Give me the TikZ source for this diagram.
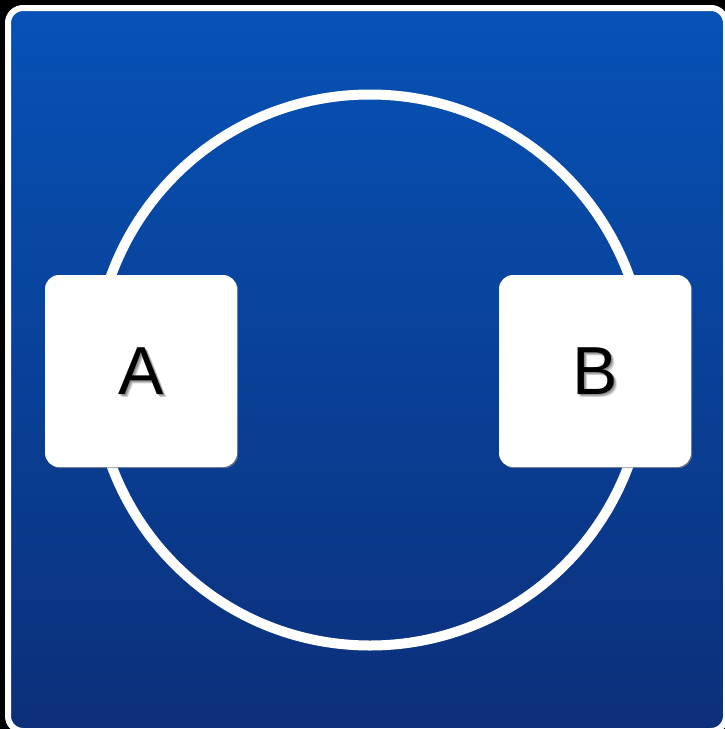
\documentclass[tikz,border=0pt]{standalone}
\usepackage{fontspec}
\setmainfont{Liberation Sans}
\usetikzlibrary{shadows}
\definecolor{paneltop}{RGB}{6,82,182}
\definecolor{panelbottom}{RGB}{12,47,122}

\begin{document}
\begin{tikzpicture}[x=1pt, y=-1pt]
  \tikzstyle{panel} = [draw=white, line width=6pt, rounded corners=15pt, top color=paneltop, bottom color=panelbottom]
  \tikzstyle{ring} = [circle, draw=white, line width=10pt, minimum size=551pt, inner sep=0pt]
  \tikzstyle{card} = [rectangle, fill=white, rounded corners=14pt, minimum size=192pt, inner sep=0pt,
                      drop shadow={shadow xshift=1.2pt, shadow yshift=-1.2pt, opacity=0.7}]
  \tikzstyle{letter} = [font=\fontsize{68}{68}\selectfont, inner sep=0pt]
  \tikzstyle{glow} = [letter, text=black, text opacity=0.18]

  \useasboundingbox[fill=black] (0,0) rectangle (725,729);
  \clip (0,0) rectangle (725,729);
  \draw[panel] (8,8) rectangle (726,731);

  \node[ring] (loop) at (370,370) {};

  \node[card] (a) at (141,371) {};
  \node[card] (b) at (595,371) {};

  % labels with a soft shadow
  \foreach \d in {1.5,2.5,3.5} {
    \node[glow, xshift=\d pt, yshift=-\d pt] at (a) {A};
    \node[glow, xshift=\d pt, yshift=-\d pt] at (b) {B};
  }
  \node[letter] (alabel) at (a) {A};
  \node[letter] (blabel) at (b) {B};
\end{tikzpicture}
\end{document}
